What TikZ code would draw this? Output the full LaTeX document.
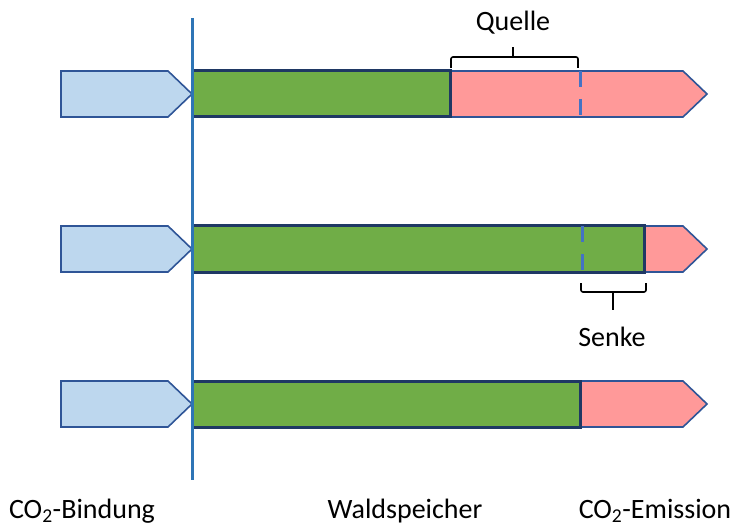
\documentclass[tikz,border=0pt]{standalone}
\usepackage{fontspec}
\setmainfont{Carlito}
\usepackage{tikz}
\definecolor{BindungBlue}{HTML}{BDD7EE}
\definecolor{FrameBlue}{HTML}{2F5597}
\definecolor{AxisBlue}{HTML}{2E75B6}
\definecolor{DashBlue}{HTML}{4472C4}
\definecolor{WaldGreen}{HTML}{70AD47}
\definecolor{WaldFrame}{HTML}{1F3864}
\definecolor{EmissionRed}{HTML}{FF9999}
\tikzset{
  bindung/.style={draw=FrameBlue,fill=BindungBlue,line width=1.6pt,line join=miter},
  emission/.style={draw=FrameBlue,fill=EmissionRed,line width=1.6pt,line join=miter},
  speicher/.style={draw=WaldFrame,fill=WaldGreen,line width=3pt},
  grenze/.style={draw=DashBlue,line width=3pt,dash pattern=on 16pt off 12pt},
  klammer/.style={draw=black,line width=1.6pt,rounded corners=2pt},
  label/.style={font=\fontsize{28}{32}\selectfont,text=black,inner sep=0pt}
}
\begin{document}
\begin{tikzpicture}[x=1pt,y=-1pt]
  \useasboundingbox (0,0) rectangle (733,529);
  % rows: centre y / end of the forest store
  \foreach \yc/\xend in {94/450,249/644,404/580}{
    \draw[emission] (\xend,\yc-23) -- (683,\yc-23) -- (707,\yc)
      -- (683,\yc+23) -- (\xend,\yc+23) -- cycle;
    \draw[speicher] (192,\yc-23) rectangle (\xend,\yc+23);
    \draw[bindung] (61,\yc-23) -- (168,\yc-23) -- (192,\yc)
      -- (168,\yc+23) -- (61,\yc+23) -- cycle;
  }
  % stock limit of the reference
  \draw[grenze] (580,71) -- (580,117);
  \draw[grenze] (582,226) -- (582,272);
  % time axis
  \draw[draw=AxisBlue,line width=3pt] (192,18) -- (192,480);
  % braces
  \draw[klammer] (451,68) -- (451,57) -- (578,57) -- (578,68);
  \draw[klammer,rounded corners=0pt] (513,57) -- (513,47);
  \draw[klammer] (581,283) -- (581,292) -- (646,292) -- (646,283);
  \draw[klammer,rounded corners=0pt] (613,292) -- (613,310);
  % labels
  \node[label,anchor=base] (quelle) at (513,31) {Quelle};
  \node[label,anchor=base] (senke) at (612,346) {Senke};
  \node[label,anchor=base] (bindung) at (82,518) {CO\textsubscript{2}-Bindung};
  \node[label,anchor=base] (speicher) at (405,518) {Waldspeicher};
  \node[label,anchor=base] (emission) at (655,518) {CO\textsubscript{2}-Emission};
\end{tikzpicture}
\end{document}
